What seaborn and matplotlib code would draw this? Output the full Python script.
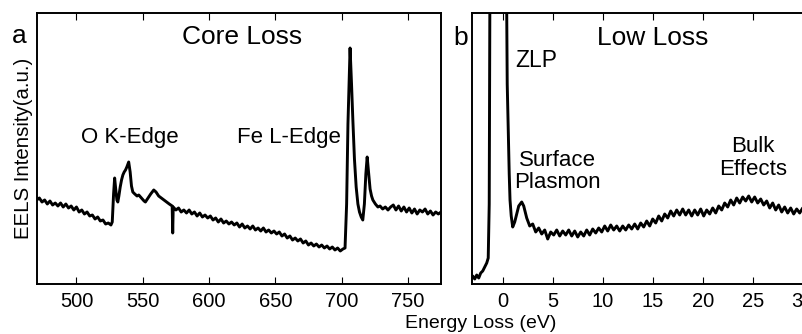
import numpy as np
import pandas as pd
import matplotlib
matplotlib.use("Agg")
import matplotlib.pyplot as plt
import seaborn as sns

# core loss spectrum (eV, intensity a.u.)
core_ev = [470, 472, 474, 476, 478, 480, 482, 484, 486, 488, 490, 492, 494, 496, 498,
           500, 502, 504, 506, 508, 510, 512, 514, 516, 518, 520, 522, 524, 526, 527,
           528, 528.8, 529.6, 530.5, 531.2, 532, 533, 534, 535, 536, 537, 538, 539.4,
           540.5, 541.5, 542.5, 544, 545.7, 547, 549, 551, 552, 554, 556, 558.3, 560,
           562, 564, 566, 568, 570, 572.2, 572.6, 573, 575, 577, 579, 581, 583, 585,
           587, 589, 591, 593, 595, 597, 599, 601, 603, 605, 607, 609, 611, 613, 615,
           617, 619, 621, 623, 625, 627, 629, 631, 633, 635, 637, 639, 641, 643, 645,
           647, 649, 651, 653, 655, 657, 659, 661, 663, 665, 667, 669, 671, 673, 675,
           677, 679, 681, 683, 685, 687, 689, 691, 693, 695, 697, 699, 701, 702.6,
           703.8, 704.8, 706.4, 707.5, 708.5, 709.7, 711, 712.3, 713.5, 714.8, 716,
           717.2, 718.3, 719.3, 720.3, 721.5, 722.6, 723.6, 725.5, 727.4, 729, 731,
           733, 735, 737, 739, 741, 743, 745, 747, 749, 751, 753, 755, 757, 759, 761,
           763, 765, 767, 769, 771, 773, 775]
core_int = [84, 86, 82, 84, 80, 83, 79, 81, 78, 81, 77, 80, 76, 78, 74,
            77, 72, 74, 70, 72, 68, 69, 65, 67, 63, 64, 60, 61, 59, 62,
            90, 106, 95, 84, 82, 88, 97, 104, 109, 112, 114, 117, 122,
            112, 98, 92, 90, 88, 89, 86, 83, 82, 86, 90, 94, 92,
            88, 86, 84, 82, 80, 78, 51, 77, 74, 76, 72, 74, 71, 74,
            70, 72, 68, 71, 67, 69, 66, 68, 64, 66, 62, 65, 61, 63, 60,
            62, 59, 61, 57, 60, 56, 58, 55, 58, 54, 56, 53, 56, 52, 54,
            51, 53, 50, 52, 48, 50, 46, 48, 44, 46, 43, 45, 41, 43, 39,
            41, 38, 40, 37, 39, 36, 38, 35, 37, 34, 36, 33, 35, 36,
            80, 160, 236, 200, 164, 125, 97, 80, 72, 67, 64,
            80, 110, 127, 112, 95, 88, 84, 80, 77, 78, 75,
            77, 74, 77, 79, 74, 78, 73, 77, 72, 76, 71, 75, 70, 74, 72,
            75, 70, 73, 69, 72, 70, 72]

# low loss spectrum (eV, intensity a.u.)
low_ev = [-3.0, -2.8, -2.6, -2.4, -2.2, -2.0, -1.8, -1.6, -1.45, -1.35, -1.28, -0.8, 0.0,
          0.3, 0.38, 0.45, 0.56, 0.65, 0.73, 0.85, 1.0, 1.2, 1.4, 1.6, 1.9, 2.1,
          2.4, 2.7, 3.0, 3.3, 3.6, 3.9, 4.2, 4.5, 4.8, 5.1, 5.4, 5.7, 6.0, 6.3, 6.6,
          6.9, 7.2, 7.5, 7.8, 8.1, 8.4, 8.7, 9.0, 9.3, 9.6, 9.9, 10.2, 10.5, 10.8,
          11.1, 11.4, 11.7, 12.0, 12.3, 12.6, 12.9, 13.2, 13.5, 13.8, 14.1, 14.4,
          14.7, 15.0, 15.3, 15.6, 15.9, 16.2, 16.5, 16.8, 17.1, 17.4, 17.7, 18.0,
          18.3, 18.6, 18.9, 19.2, 19.5, 19.8, 20.1, 20.4, 20.7, 21.0, 21.3, 21.6,
          21.9, 22.2, 22.5, 22.8, 23.1, 23.4, 23.7, 24.0, 24.3, 24.6, 24.9, 25.2,
          25.5, 25.8, 26.1, 26.4, 26.7, 27.0, 27.3, 27.6, 27.9, 28.2, 28.5, 28.8,
          29.1, 29.4, 29.7, 30.0, 30.3, 30.6]
low_int = [8, 5, 9, 6, 11, 13, 17, 21, 26, 80, 300, 3000, 12000,
           2000, 300, 200, 151, 110, 84, 68, 57, 62, 70, 78, 82, 78,
           66, 58, 60, 52, 56, 50, 54, 45, 52, 49, 54, 48, 53, 49, 54,
           48, 53, 47, 52, 48, 54, 49, 55, 51, 56, 52, 58, 53, 59,
           54, 58, 53, 58, 54, 59, 55, 60, 55, 61, 57, 63,
           58, 65, 61, 68, 63, 70, 66, 73, 68, 74, 69, 75,
           69, 74, 68, 74, 69, 75, 68, 74, 70, 76, 71, 78,
           74, 81, 77, 84, 79, 86, 81, 87, 83, 88, 82, 87,
           81, 85, 79, 83, 76, 81, 74, 79, 72, 77, 71, 76,
           70, 75, 71, 76, 72, 76]

core_ticks = [500, 550, 600, 650, 700, 750]
low_ticks = [0, 5, 10, 15, 20, 25, 30]

core = pd.DataFrame({"ev": core_ev, "intensity": core_int})
low = pd.DataFrame({"ev": low_ev, "intensity": low_int})

sns.set_theme(style="ticks")
plt.rcParams["font.family"] = ["Liberation Sans", "DejaVu Sans"]
plt.rcParams["text.color"] = "black"
plt.rcParams["axes.labelcolor"] = "black"

fig = plt.figure(figsize=(8.03, 3.34), dpi=100)
ax1 = fig.add_axes([0.0457, 0.1497, 0.5035, 0.8105])
ax2 = fig.add_axes([0.5882, 0.1497, 0.4205, 0.8105])

sns.lineplot(data=core, x="ev", y="intensity", ax=ax1, color="black", lw=2.1,
             sort=False, estimator=None)
sns.lineplot(data=low, x="ev", y="intensity", ax=ax2, color="black", lw=2.1,
             sort=False, estimator=None)

ax1.set_xlim(470, 775)
ax2.set_xlim(-3.04, 30.73)
for ax, ticks in [(ax1, core_ticks), (ax2, low_ticks)]:
    ax.set_ylim(0, 270.7)
    ax.set_xticks(ticks)
    ax.set_yticks([])
    ax.tick_params(axis="x", direction="in", top=True, length=5, width=0.8,
                   labelsize=14.5, pad=6, colors="black")
    for s in ax.spines.values():
        s.set_visible(True)
        s.set_linewidth(1.4)
        s.set_color("black")
    ax.set_xlabel("")
    ax.set_ylabel("")

ax1.set_ylabel("EELS Intensity(a.u.)", fontsize=14.7, labelpad=3)

ax1.text(625.2, 240, "Core Loss", fontsize=19, ha="center", va="baseline")
ax1.text(540.4, 141.3, "O K-Edge", fontsize=16, ha="center", va="baseline")
ax1.text(660.5, 141.3, "Fe L-Edge", fontsize=16, ha="center", va="baseline")

ax2.text(15.0, 239, "Low Loss", fontsize=19, ha="center", va="baseline")
ax2.text(3.4, 217.3, "ZLP", fontsize=16.5, ha="center", va="baseline")
ax2.text(5.48, 118.3, "Surface", fontsize=16, ha="center", va="baseline")
ax2.text(5.48, 95.7, "Plasmon", fontsize=16, ha="center", va="baseline")
ax2.text(25.0, 132.3, "Bulk", fontsize=16, ha="center", va="baseline")
ax2.text(25.0, 109, "Effects", fontsize=16, ha="center", va="baseline")

fig.text(0.0149, 0.8713, "a", fontsize=19, ha="left", va="baseline")
fig.text(0.5645, 0.8653, "b", fontsize=19, ha="left", va="baseline")
fig.text(0.5988, 0.017, "Energy Loss (eV)", fontsize=14, ha="center", va="baseline")

fig.savefig("out.png", dpi=100)
